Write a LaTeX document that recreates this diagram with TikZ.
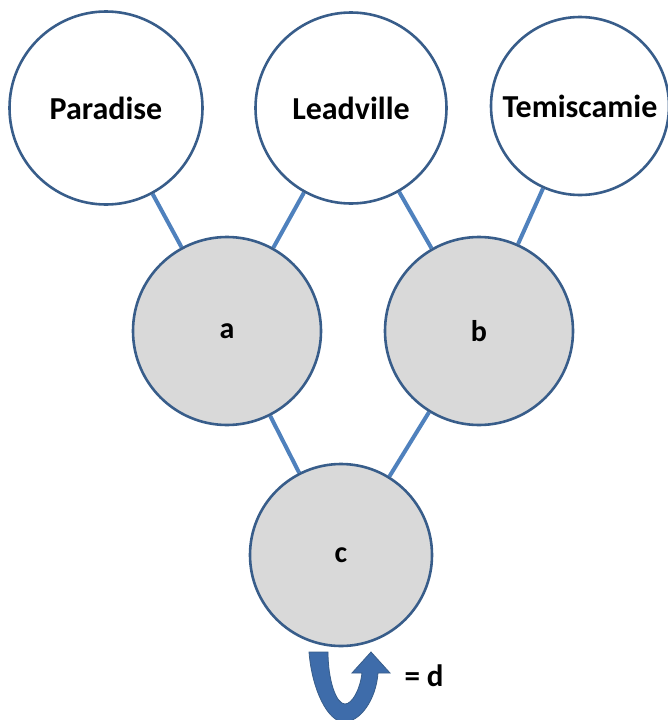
\documentclass[tikz,border=0pt]{standalone}
\usepackage{fontspec}
\setmainfont{Carlito}
\usetikzlibrary{backgrounds}
\definecolor{rim}{RGB}{56,93,138}
\definecolor{link}{RGB}{79,129,189}
\definecolor{shade}{RGB}{217,217,217}
\definecolor{arrowblue}{RGB}{62,108,170}
\tikzset{
  town/.style={circle, draw=rim, line width=2.6pt, fill=white, inner sep=0pt,
    font=\fontsize{32}{38}\selectfont\bfseries},
  anc/.style={circle, draw=rim, line width=2.6pt, fill=shade, inner sep=0pt,
    font=\fontsize{30}{36}\selectfont\bfseries},
  linkline/.style={draw=link, line width=4pt},
}
\begin{document}
\begin{tikzpicture}[x=1pt,y=-1pt]
\useasboundingbox (0,0) rectangle (668,720);
\node[town, minimum size=193pt] (par) at (106,108) {Paradise};
\node[town, minimum size=191pt] (lea) at (351,108) {Leadville};
\node[town, minimum size=178pt] (tem) at (580,106) {Temiscamie};
\node[anc, minimum size=188pt] (a) at (227,331) {a};
\node[anc, minimum size=188pt] (b) at (479,331) {b};
\node[anc, minimum size=182pt] (c) at (341,555) {c};
\begin{pgfonlayer}{background}
\draw[linkline] (par) -- (a);
\draw[linkline] (lea) -- (a);
\draw[linkline] (lea) -- (b);
\draw[linkline] (tem) -- (b);
\draw[linkline] (a) -- (c);
\draw[linkline] (b) -- (c);
\end{pgfonlayer}
% U-turn arrow
\fill[arrowblue, draw=rim, line width=0.8pt]
  (309,652) .. controls (312,690) and (328,722) .. (344,722)
  .. controls (360,722) and (376,700) .. (378,673)
  -- (390,673) -- (371,652) -- (352,673) -- (362,673)
  .. controls (360,690) and (352,704) .. (345,704)
  .. controls (336,704) and (328,680) .. (328,652) -- cycle;
\node[font=\fontsize{31}{36}\selectfont\bfseries, anchor=west] (d) at (401,676) {= d};
\end{tikzpicture}
\end{document}
